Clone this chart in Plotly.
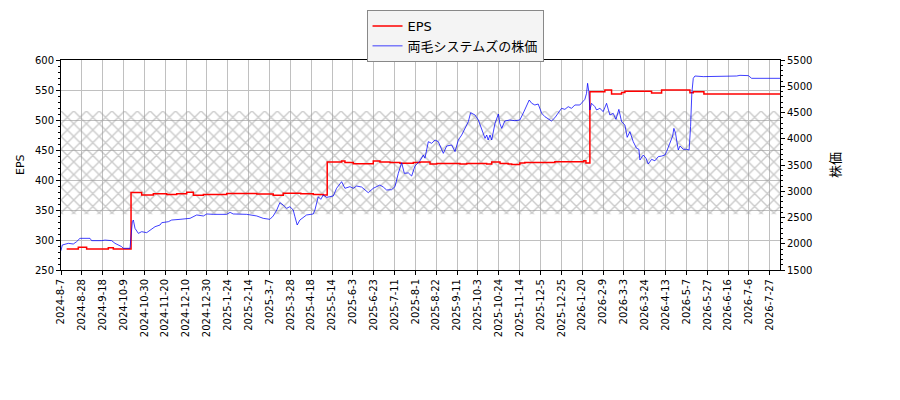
import plotly.graph_objects as go

# x축 눈금 (영업일 기준 등간격)
tick_labels = ["2024-8-7", "2024-8-28", "2024-9-18", "2024-10-9", "2024-10-30", "2024-11-20",
               "2024-12-10", "2024-12-30", "2025-1-24", "2025-2-14", "2025-3-7", "2025-3-28",
               "2025-4-18", "2025-5-14", "2025-6-3", "2025-6-23", "2025-7-11", "2025-8-1",
               "2025-8-22", "2025-9-11", "2025-10-3", "2025-10-24", "2025-11-14", "2025-12-5",
               "2025-12-25", "2026-1-20", "2026-2-9", "2026-3-3", "2026-3-24", "2026-4-13",
               "2026-5-7", "2026-5-27", "2026-6-16", "2026-7-6", "2026-7-27"]
x_end = 34.49

# EPS (계단형)
eps_x = [0.27, 0.83, 1.23, 2.27, 2.51, 3.36, 3.87, 4.43, 5.07, 5.55, 6.03, 6.35, 6.83, 7.95,
         9.39, 10.18, 10.66, 11.5, 12.1, 12.58, 12.77, 13.46, 13.62, 14.02, 14.98, 15.3, 15.78,
         16.26, 16.9, 17.22, 17.7, 18.02, 19.14, 19.46, 20.42, 20.66, 21.06, 21.45, 21.62,
         22.01, 22.25, 23.69, 25.08, 25.18, 25.37, 26.09, 26.41, 26.89, 27.05, 28.33, 28.81,
         30.17, 30.33, 30.84, 34.49]
eps_y = [285, 288, 285, 287, 285, 379, 375, 377, 376, 377, 379.5, 374.5, 376, 377.5,
         376.5, 374.5, 378, 377, 376, 375, 430, 431.5, 429, 427, 431.5, 430, 429,
         428, 429, 430, 426.5, 427.5, 426.5, 427.5, 426.5, 430, 427.5, 426.5, 426,
         428.5, 429, 430.5, 432, 428.5, 547, 550, 543.5, 546, 548, 545, 550,
         545.6, 547, 543.3, 543.3]

# 両毛システムズの株価
price_x = [0, 0.06, 0.35, 0.59, 0.75, 0.91, 1.39, 1.47, 1.95, 2.11, 2.43, 2.59, 2.91, 2.99,
           3.31, 3.36, 3.42, 3.47, 3.55, 3.71, 3.87, 4.11, 4.27, 4.51, 4.75, 4.83, 5.15, 5.31,
           5.71, 6.19, 6.51, 6.83, 6.99, 7.3, 7.95, 8.11, 8.26, 8.91, 9.39, 9.7, 10.02, 10.18,
           10.35, 10.5, 10.66, 10.82, 10.98, 11.14, 11.22, 11.33, 11.46, 11.62, 11.78, 12.1,
           12.18, 12.34, 12.46, 12.58, 12.74, 12.9, 13.06, 13.22, 13.46, 13.62, 13.86, 14.02,
           14.18, 14.42, 14.5, 14.74, 14.98, 15.3, 15.46, 15.62, 15.86, 16.02, 16.18, 16.34,
           16.47, 16.66, 16.82, 16.98, 17.22, 17.38, 17.46, 17.62, 17.78, 17.94, 18.1, 18.26,
           18.34, 18.5, 18.74, 18.9, 19.06, 19.22, 19.38, 19.54, 19.65, 19.86, 20.02, 20.18,
           20.34, 20.42, 20.49, 20.58, 20.66, 20.82, 20.98, 21.05, 21.14, 21.29, 21.53, 21.77,
           22.01, 22.17, 22.3, 22.46, 22.58, 22.73, 22.89, 23.06, 23.21, 23.29, 23.53, 23.69,
           23.85, 24.01, 24.17, 24.33, 24.49, 24.65, 24.89, 25.05, 25.13, 25.21, 25.26, 25.32,
           25.37, 25.45, 25.61, 25.69, 25.85, 26.01, 26.17, 26.33, 26.49, 26.62, 26.76, 26.89,
           27.05, 27.16, 27.29, 27.45, 27.61, 27.72, 27.77, 27.93, 28.06, 28.17, 28.33, 28.49,
           28.65, 28.81, 28.97, 29.05, 29.13, 29.21, 29.34, 29.4, 29.48, 29.53, 29.61, 29.69,
           29.85, 30.01, 30.13, 30.2, 30.26, 30.33, 30.41, 30.81, 31.53, 31.77, 32.41, 32.57,
           32.97, 33.13, 34.49]
price_y = [1868, 1976, 2008, 1995, 2040, 2103, 2103, 2059, 2059, 2070, 2059, 2008, 1945, 1913,
           1913, 2135, 2420, 2452, 2293, 2198, 2230, 2211, 2262, 2325, 2357, 2401, 2420, 2452,
           2465, 2484, 2548, 2529, 2567, 2560, 2560, 2598, 2567, 2560, 2529, 2484, 2465, 2529,
           2643, 2782, 2738, 2674, 2706, 2643, 2516, 2357, 2452, 2503, 2548, 2567,
           2643, 2896, 2846, 2929, 2884, 2896, 2910, 3056, 3182, 3056, 3087, 3056,
           3100, 3080, 3056, 2973, 3056, 3119, 3080, 3024, 3030, 3087, 3341, 3544,
           3341, 3350, 3290, 3481, 3580, 3690, 3630, 3944, 3913, 3976, 3944, 3786,
           3722, 3862, 3881, 3754, 3976, 4071, 4198, 4325, 4497, 4452, 4357, 4198,
           4008, 4071, 3976, 4071, 3976, 4294, 4471, 4294, 4198, 4338, 4357, 4344,
           4357, 4484, 4611, 4738, 4675, 4643, 4662, 4484, 4421, 4400, 4338, 4400,
           4484, 4579, 4560, 4611, 4579, 4643, 4643, 4706, 4751, 4865, 5056, 4897,
           4548, 4675, 4611, 4548, 4579, 4516, 4675, 4452, 4484, 4370, 4560, 4325,
           4262, 4027, 4135, 3944, 3818, 3800, 3595, 3690, 3630, 3519, 3608, 3580,
           3659, 3670, 3690, 3754, 3837, 3913, 4052, 4198, 4103, 3976, 3786, 3862,
           3799, 3799, 3786, 4230, 4865, 5151, 5195, 5183, 5183, 5195, 5195, 5208,
           5202, 5151, 5151]

# 해칭 구간 (EPS 축 기준)
band_low = 343
band_high = 515

font_family = "DejaVu Sans, Noto Sans CJK JP"

fig = go.Figure()

# 해칭 영역
fig.add_trace(go.Scatter(
    x=[0, x_end, x_end, 0, 0],
    y=[band_low, band_low, band_high, band_high, band_low],
    fill="toself",
    mode="none",
    fillcolor="rgba(0,0,0,0)",
    fillpattern=dict(shape="x", size=9, solidity=0.3, fgcolor="#9a9a9a"),
    showlegend=False,
    hoverinfo="skip"
))

fig.add_trace(go.Scatter(
    x=eps_x, y=eps_y,
    mode="lines",
    line=dict(color="#ff0000", width=1.5, shape="hv"),
    name="EPS"
))

fig.add_trace(go.Scatter(
    x=price_x, y=price_y,
    mode="lines",
    line=dict(color="rgba(0,0,255,0.75)", width=1),
    name="両毛システムズの株価",
    yaxis="y2"
))

# 페이지 기본 여백(8px)을 감안한 마진, 자동 확장 끔
fig.update_layout(
    width=900, height=400,
    margin=dict(l=53, r=128, t=52, b=138, autoexpand=False),
    paper_bgcolor="white",
    plot_bgcolor="white",
    font=dict(family=font_family, size=10, color="black"),
    legend=dict(
        xref="container", yref="container",
        x=0.4967, y=0.995, xanchor="center", yanchor="top",
        bgcolor="#f4f4f4", bordercolor="#888888", borderwidth=1,
        font=dict(size=13),
        itemwidth=30,
        tracegroupgap=0
    ),
    xaxis=dict(
        range=[0, x_end],
        tickmode="array",
        tickvals=list(range(len(tick_labels))),
        ticktext=tick_labels,
        tickangle=-90,
        ticks="outside", ticklen=4, tickcolor="black",
        showgrid=True, gridcolor="#c0c0c0", gridwidth=1,
        showline=True, linecolor="black", linewidth=1, mirror=True,
        zeroline=False
    ),
    yaxis=dict(
        range=[250, 600],
        dtick=50,
        ticks="outside", ticklen=4, tickcolor="black",
        minor=dict(dtick=10, ticks="outside", ticklen=2, tickcolor="black", showgrid=False),
        showgrid=True, gridcolor="#c0c0c0", gridwidth=1,
        showline=True, linecolor="black", linewidth=1,
        zeroline=False
    ),
    yaxis2=dict(
        overlaying="y",
        side="right",
        range=[1500, 5500],
        dtick=500,
        ticks="outside", ticklen=4, tickcolor="black",
        minor=dict(dtick=100, ticks="outside", ticklen=2, tickcolor="black", showgrid=False),
        showgrid=False,
        showline=True, linecolor="black", linewidth=1,
        zeroline=False
    ),
    annotations=[
        dict(text="EPS", textangle=-90,
             xref="paper", yref="paper", x=-0.057, y=0.5,
             xanchor="center", yanchor="middle", showarrow=False,
             font=dict(size=11)),
        dict(text="株価", textangle=-90,
             xref="paper", yref="paper", x=1.0765, y=0.5,
             xanchor="center", yanchor="middle", showarrow=False,
             font=dict(size=13))
    ]
)

fig.write_html("out.html")
